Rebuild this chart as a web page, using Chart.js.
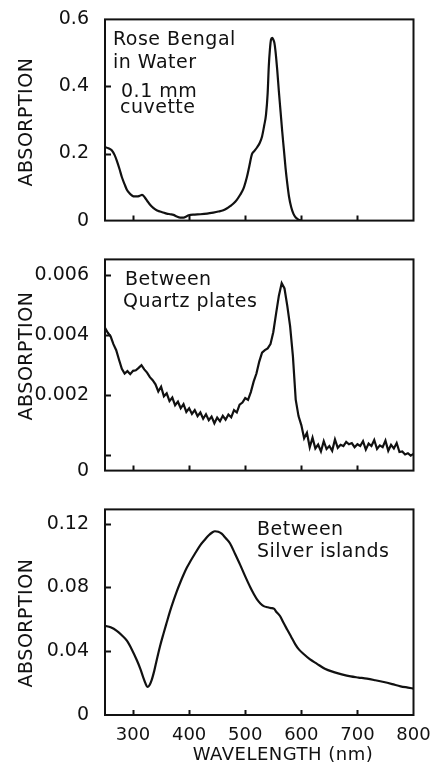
<!DOCTYPE html>
<html>
<head>
<meta charset="utf-8">
<title>Rose Bengal absorption spectra</title>
<script src="https://cdn.jsdelivr.net/npm/chart.js@4.4.1/dist/chart.umd.min.js"></script>
<style>
  html, body { margin: 0; padding: 0; background: #fff; }
  #wrap { position: relative; width: 437px; height: 774px; overflow: hidden; }
  #wrap canvas { position: absolute; left: 0; }
</style>
</head>
<body>
<div id="wrap">
  <canvas id="rose" width="437" height="240" style="top:0"></canvas>
  <canvas id="quartz" width="437" height="250" style="top:240px"></canvas>
  <canvas id="silver" width="437" height="284" style="top:490px"></canvas>
</div>
<script>
// Three stacked absorption spectra, wavelength 250-800 nm.

// ─── Data ──────────────────────────────────────────────────────────────────

const xTickValues = [300, 400, 500, 600, 700, 800];
const xTickLabels = ['300', '400', '500', '600', '700', '800'];

// Rose Bengal in water, 0.1 mm cuvette
const roseNm = [250, 256, 262, 267, 271, 276, 280, 285, 289, 294, 298, 303, 307, 312, 316, 321,
  326, 330, 336, 342, 348, 354, 360, 366, 372, 378, 384, 390, 395, 399, 410, 420, 432, 443, 452,
  461, 467, 473, 479, 485, 491, 497, 503, 507, 512, 516, 521, 526, 530, 534, 537, 540, 542, 544,
  546, 548, 550, 552, 554, 557, 560, 563, 566, 569, 572, 575, 578, 582, 586, 590, 595, 600];
const roseAbs = [0.219, 0.216, 0.210, 0.196, 0.179, 0.153, 0.130, 0.108, 0.092, 0.081, 0.075,
  0.072, 0.072, 0.074, 0.077, 0.069, 0.057, 0.048, 0.038, 0.031, 0.027, 0.024, 0.021, 0.019,
  0.017, 0.012, 0.009, 0.009, 0.012, 0.016, 0.018, 0.019, 0.021, 0.024, 0.027, 0.031, 0.036,
  0.043, 0.051, 0.062, 0.077, 0.096, 0.130, 0.160, 0.198, 0.207, 0.218, 0.232, 0.251, 0.285,
  0.315, 0.380, 0.460, 0.510, 0.540, 0.545, 0.540, 0.530, 0.505, 0.450, 0.385, 0.325, 0.265,
  0.210, 0.155, 0.110, 0.072, 0.040, 0.020, 0.009, 0.003, 0.0];
const roseTickValues = [0, 0.2, 0.4, 0.6];
const roseTickLabels = ['0', '0.2', '0.4', '0.6'];

// Between quartz plates (noisy trace)
const quartzNm = [250, 255, 260, 265, 270, 275, 280, 285, 290, 295, 300, 305, 310, 315, 320,
  325, 330, 335, 340, 345, 350, 355, 360, 365, 370, 375, 380, 385, 390, 395, 400, 405, 410, 415,
  420, 425, 430, 435, 440, 445, 450, 455, 460, 465, 470, 475, 480, 485, 490, 495, 500, 505, 510,
  515, 520, 525, 530, 535, 540, 545, 550, 555, 560, 565, 570, 575, 580, 585, 590, 595, 600, 605,
  610, 615, 620, 625, 630, 635, 640, 645, 650, 655, 660, 665, 670, 675, 680, 685, 690, 695, 700,
  705, 710, 715, 720, 725, 730, 735, 740, 745, 750, 755, 760, 765, 770, 775, 780, 785, 790, 795, 800];
const quartzAbs = [0.00425, 0.00408, 0.00396, 0.00370, 0.00350, 0.00318, 0.00288, 0.00272,
  0.00280, 0.00270, 0.00281, 0.00283, 0.00291, 0.00300, 0.00286, 0.00275, 0.00260, 0.00250,
  0.00236, 0.00212, 0.00228, 0.00196, 0.00206, 0.00180, 0.00192, 0.00166, 0.00178, 0.00156,
  0.00170, 0.00144, 0.00156, 0.00137, 0.00150, 0.00130, 0.00142, 0.00121, 0.00136, 0.00116,
  0.00128, 0.00106, 0.00125, 0.00113, 0.00131, 0.00118, 0.00135, 0.00126, 0.00150, 0.00142,
  0.00168, 0.00175, 0.00190, 0.00184, 0.00210, 0.00245, 0.00272, 0.00312, 0.00342, 0.00350,
  0.00356, 0.00370, 0.00410, 0.00472, 0.00532, 0.00574, 0.00556, 0.00498, 0.00430, 0.00330,
  0.00185, 0.00130, 0.00100, 0.00056, 0.00074, 0.00026, 0.00058, 0.00022, 0.00035, 0.00012,
  0.00046, 0.00020, 0.00030, 0.00014, 0.00052, 0.00024, 0.00034, 0.00030, 0.00044, 0.00036,
  0.00040, 0.00026, 0.00036, 0.00030, 0.00046, 0.00018, 0.00038, 0.00030, 0.00050, 0.00020,
  0.00032, 0.00026, 0.00048, 0.00014, 0.00034, 0.00022, 0.00040, 0.00010, 0.00012, 0.00002,
  0.00006, -0.00002, 0.00004, 0.00006, 0.00008];
const quartzTickValues = [0, 0.002, 0.004, 0.006];
const quartzTickLabels = ['0', '0.002', '0.004', '0.006'];

// Between silver islands
const silverNm = [250, 260, 271, 280, 289, 298, 307, 313, 318, 322, 325.5, 329, 333, 338, 342,
  348, 354, 360, 366, 372, 378, 384, 390, 396, 402, 410, 420, 428, 435, 441, 446, 452, 458, 465,
  473, 482, 491, 500, 509, 516, 521, 527, 533, 540, 546, 551, 556, 562, 568, 575, 582, 589, 596,
  604, 615, 628, 642, 658, 672, 688, 702, 717, 732, 747, 762, 777, 790, 800];
const silverAbs = [0.0560, 0.0550, 0.0528, 0.0500, 0.0466, 0.0410, 0.0342, 0.0290, 0.0238,
  0.0200, 0.0176, 0.0185, 0.0217, 0.0280, 0.0342, 0.0430, 0.0507, 0.0580, 0.0652, 0.0716,
  0.0776, 0.0830, 0.0880, 0.0925, 0.0963, 0.1010, 0.1066, 0.1100, 0.1128, 0.1145, 0.1153,
  0.1150, 0.1138, 0.1110, 0.1076, 0.1010, 0.0942, 0.0870, 0.0802, 0.0755, 0.0725, 0.0700,
  0.0683, 0.0676, 0.0671, 0.0667, 0.0645, 0.0621, 0.0580, 0.0535, 0.0490, 0.0445, 0.0410,
  0.0383, 0.0350, 0.0321, 0.0290, 0.0269, 0.0255, 0.0242, 0.0235, 0.0228, 0.0218, 0.0207,
  0.0194, 0.0180, 0.0172, 0.0166];
const silverTickValues = [0, 0.04, 0.08, 0.12];
const silverTickLabels = ['0', '0.04', '0.08', '0.12'];

// ─── Look ──────────────────────────────────────────────────────────────────

const FONT = '"DejaVu Sans", "Liberation Sans", sans-serif';
const INK = '#111111';

// per-canvas decoration: frame ticks, notes, titles
const decor = {
  rose: {
    xMarks: [300, 400, 500, 600, 700],
    yMarks: [0.2, 0.4],
    yTitleY: 122,
    notes: [
      { text: 'Rose Bengal', x: 113, y: 45 },
      { text: 'in Water', x: 113, y: 68 },
      { text: '0.1 mm', x: 121, y: 97 },
      { text: 'cuvette', x: 120, y: 113 },
    ],
  },
  quartz: {
    xMarks: [300, 400, 500, 600, 700],
    yMarks: [0, 0.002, 0.004, 0.006],
    yTitleY: 116,
    notes: [
      { text: 'Between', x: 125, y: 45 },
      { text: 'Quartz plates', x: 123, y: 67 },
    ],
  },
  silver: {
    xMarks: [300, 400, 500, 600, 700],
    yMarks: [0.04, 0.08, 0.12],
    yTitleY: 133,
    xTitle: { text: 'WAVELENGTH (nm)', x: 283, y: 270 },
    notes: [
      { text: 'Between', x: 257, y: 45 },
      { text: 'Silver islands', x: 257, y: 67 },
    ],
  },
};

const decorPlugin = {
  id: 'decor',
  afterDraw(chart) {
    const d = decor[chart.canvas.id];
    const { ctx, chartArea: a, scales } = chart;
    ctx.save();
    ctx.strokeStyle = INK;
    ctx.lineWidth = 2;
    ctx.strokeRect(a.left, a.top, a.right - a.left, a.bottom - a.top);

    // inward tick marks
    ctx.beginPath();
    d.xMarks.forEach(v => {
      const x = Math.round(scales.x.getPixelForValue(v)) + 0.5;
      ctx.moveTo(x, a.bottom);
      ctx.lineTo(x, a.bottom - 5);
    });
    d.yMarks.forEach(v => {
      const y = Math.round(scales.y.getPixelForValue(v)) + 0.5;
      ctx.moveTo(a.left, y);
      ctx.lineTo(a.left + 6, y);
    });
    ctx.stroke();

    ctx.fillStyle = INK;
    ctx.font = '19px ' + FONT;
    ctx.textAlign = 'left';
    ctx.textBaseline = 'alphabetic';
    ctx.letterSpacing = '0.5px';
    d.notes.forEach(n => ctx.fillText(n.text, n.x, n.y));

    ctx.save();
    ctx.translate(27, d.yTitleY);
    ctx.rotate(-Math.PI / 2);
    ctx.textAlign = 'center';
    ctx.textBaseline = 'middle';
    ctx.fillText('ABSORPTION', 0, 0);
    ctx.restore();

    if (d.xTitle) {
      ctx.font = '18px ' + FONT;
      ctx.textAlign = 'center';
      ctx.fillText(d.xTitle.text, d.xTitle.x, d.xTitle.y);
    }
    ctx.restore();
  }
};

function makePanel(id, nm, abs, opts) {
  const points = nm.map((x, i) => ({ x, y: abs[i] }));
  return new Chart(document.getElementById(id), {
    type: 'line',
    data: {
      datasets: [{
        data: points,
        borderColor: INK,
        borderWidth: 2.2,
        pointRadius: 0,
        fill: false,
        tension: opts.smooth ? 0.4 : 0,
        cubicInterpolationMode: opts.smooth ? 'monotone' : 'default',
      }]
    },
    options: {
      responsive: false,
      animation: false,
      devicePixelRatio: 1,
      layout: { padding: opts.padding },
      plugins: { legend: { display: false }, tooltip: { enabled: false } },
      scales: {
        x: {
          type: 'linear',
          min: 250,
          max: 800,
          grid: { display: false },
          border: { display: false },
          afterBuildTicks: s => { s.ticks = xTickValues.map(v => ({ value: v })); },
          afterFit: s => { s.height = opts.xHeight; },
          ticks: {
            display: !!opts.xLabels,
            autoSkip: false,
            maxRotation: 0,
            padding: 2,
            color: INK,
            font: { family: FONT, size: 18 },
            callback: (v, i) => xTickLabels[i],
          }
        },
        y: {
          type: 'linear',
          min: opts.yMin,
          max: opts.yMax,
          grid: { display: false },
          border: { display: false },
          afterBuildTicks: s => { s.ticks = opts.yTickPos.map(v => ({ value: v })); },
          afterFit: s => { s.width = 105; },
          ticks: {
            padding: 8,
            color: INK,
            font: { family: FONT, size: 19 },
            callback: (v, i) => opts.yTickLabels[i],
          }
        }
      }
    },
    plugins: [decorPlugin]
  });
}

// ─── Panels ────────────────────────────────────────────────────────────────

makePanel('rose', roseNm, roseAbs, {
  smooth: true,
  padding: { top: 18.5, right: 23.5, bottom: 13.5, left: 0 },
  xHeight: 0,
  yMin: 0, yMax: 0.6,
  yTickPos: roseTickValues,
  yTickLabels: roseTickLabels,
});

// the "0" label of this panel sits on the frame's lower edge, below the 0 tick
const quartzMin = -0.00052;
makePanel('quartz', quartzNm, quartzAbs, {
  smooth: false,
  padding: { top: 15, right: 23.5, bottom: 13, left: 0 },
  xHeight: 0,
  yMin: quartzMin, yMax: 0.00653,
  yTickPos: [quartzMin].concat(quartzTickValues.slice(1)),
  yTickLabels: quartzTickLabels,
});

makePanel('silver', silverNm, silverAbs, {
  smooth: true,
  xLabels: true,
  padding: { top: 16.5, right: 23.5, bottom: 0, left: 0 },
  xHeight: 59,
  yMin: 0, yMax: 0.129,
  yTickPos: silverTickValues,
  yTickLabels: silverTickLabels,
});
</script>
</body>
</html>
